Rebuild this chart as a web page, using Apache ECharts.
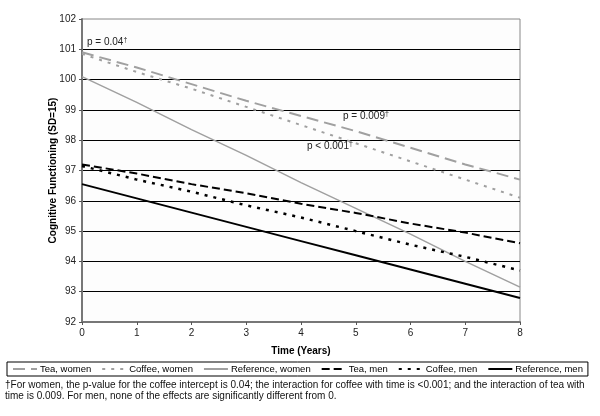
<!DOCTYPE html>
<html>
<head>
<meta charset="utf-8">
<script src="https://cdn.jsdelivr.net/npm/echarts@6/dist/echarts.min.js"></script>
<style>
html,body{margin:0;padding:0;background:#fff;}
#c{width:600px;height:416px;}
</style>
</head>
<body>
<div id="c"></div>
<script>
var years = [0, 1, 2, 3, 4, 5, 6, 7, 8];
var teaWomen = [100.9, 100.4, 99.85, 99.3, 98.8, 98.3, 97.75, 97.2, 96.7];
var coffeeWomen = [100.85, 100.25, 99.7, 99.1, 98.5, 97.9, 97.3, 96.7, 96.1];
var refWomen = [100.1, 99.25, 98.35, 97.5, 96.6, 95.75, 94.9, 94.0, 93.15];
var teaMen = [97.2, 96.9, 96.55, 96.25, 95.9, 95.6, 95.25, 94.95, 94.6];
var coffeeMen = [97.15, 96.7, 96.3, 95.85, 95.45, 95.0, 94.55, 94.15, 93.7];
var refMen = [96.55, 96.08, 95.61, 95.14, 94.67, 94.2, 93.73, 93.26, 92.79];
var seriesNames = ['Tea, women', 'Coffee, women', 'Reference, women', 'Tea, men', 'Coffee, men', 'Reference, men'];
var footnote1 = '\u2020For women, the p-value for the coffee intercept is 0.04; the interaction for coffee with time is <0.001; and the interaction of tea with';
var footnote2 = 'time is 0.009. For men, none of the effects are significantly different from 0.';

function pairs(vals){ return years.map(function(y,i){ return [y, vals[i]]; }); }

var GRAY = '#a0a0a0';
var FONT = '"Liberation Sans", Arial, sans-serif';

function mk(name, vals, color, width, type){
  return {
    name: name, type: 'line', data: pairs(vals),
    showSymbol: false, symbol: 'none', silent: true,
    lineStyle: { color: color, width: width, type: type },
    itemStyle: { color: color }
  };
}

var chart = echarts.init(document.getElementById('c'), null, {renderer: 'canvas'});
chart.setOption({
  animation: false,
  backgroundColor: '#fff',
  textStyle: { fontFamily: FONT },
  grid: { left: 82, right: 80, top: 19, bottom: 94, show: true, borderColor: '#888', borderWidth: 1, backgroundColor: '#fdfdfd' },
  xAxis: {
    type: 'value', min: 0, max: 8, interval: 1,
    name: 'Time (Years)', nameLocation: 'middle', nameGap: 24,
    nameTextStyle: { fontFamily: FONT, fontSize: 10, fontWeight: 'bold', color: '#000' },
    axisLine: { show: true, lineStyle: { color: '#777', width: 2 } },
    axisTick: { show: true, length: 3, lineStyle: { color: '#555' } },
    axisLabel: { fontFamily: FONT, fontSize: 10, color: '#222', margin: 6 },
    splitLine: { show: false }
  },
  yAxis: {
    type: 'value', min: 92, max: 102, interval: 1,
    name: 'Cognitive Functioning (SD=15)', nameLocation: 'middle', nameGap: 24, nameRotate: 90,
    nameMoveOverlap: false,
    nameTextStyle: { fontFamily: FONT, fontSize: 10, fontWeight: 'bold', color: '#000' },
    axisLine: { show: true, lineStyle: { color: '#777', width: 2 } },
    axisTick: { show: true, length: 3, lineStyle: { color: '#555' } },
    axisLabel: { fontFamily: FONT, fontSize: 10, color: '#222', margin: 6 },
    splitLine: { show: true, showMinLine: false, showMaxLine: false, lineStyle: { color: '#000', width: 1 } }
  },
  legend: {
    data: seriesNames,
    left: 7, top: 362, right: 0,
    orient: 'horizontal',
    itemWidth: 24, itemHeight: 10, itemGap: 10,
    padding: [2, 5, 2, 5],
    borderColor: '#000', borderWidth: 1,
    itemStyle: { opacity: 0 },
    textStyle: { fontFamily: FONT, fontSize: 9.5, color: '#000', padding: [0,0,0,-2] }
  },
  series: [
    mk(seriesNames[0], teaWomen, GRAY, 2, [12, 6]),
    mk(seriesNames[1], coffeeWomen, GRAY, 2, [3, 6]),
    mk(seriesNames[2], refWomen, GRAY, 1.5, 'solid'),
    mk(seriesNames[3], teaMen, '#000', 2, [8, 4]),
    mk(seriesNames[4], coffeeMen, '#000', 2.5, [3, 6]),
    mk(seriesNames[5], refMen, '#000', 2, 'solid')
  ],
  graphic: [
    { type: 'text', left: 87, top: 37, style: { rich: { a: { fontFamily: FONT, fontSize: 10, fill: '#222' }, s: { fontFamily: FONT, fontSize: 7, fill: '#222', verticalAlign: 'top' } }, text: '{a|p = 0.04}{s|\u2020}' } },
    { type: 'text', left: 343, top: 111, style: { rich: { a: { fontFamily: FONT, fontSize: 10, fill: '#222' }, s: { fontFamily: FONT, fontSize: 7, fill: '#222', verticalAlign: 'top' } }, text: '{a|p = 0.009}{s|\u2020}' } },
    { type: 'text', left: 307, top: 141, style: { rich: { a: { fontFamily: FONT, fontSize: 10, fill: '#222' }, s: { fontFamily: FONT, fontSize: 7, fill: '#222', verticalAlign: 'top' } }, text: '{a|p < 0.001}{s|\u2020}' } },
    { type: 'text', left: 5, top: 380, style: { text: footnote1, fontFamily: FONT, fontSize: 10, fill: '#111' } },
    { type: 'text', left: 5, top: 391, style: { text: footnote2, fontFamily: FONT, fontSize: 10, fill: '#111' } }
  ]
});
</script>
</body>
</html>
